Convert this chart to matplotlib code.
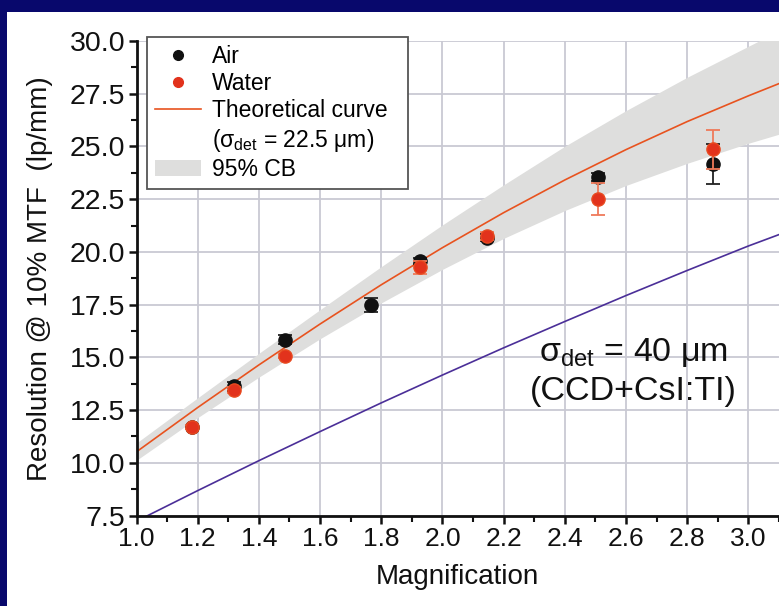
import matplotlib
matplotlib.use("Agg")
import matplotlib.pyplot as plt
from matplotlib.lines import Line2D
from matplotlib.patches import Patch, Rectangle
from matplotlib.ticker import MultipleLocator, FormatStrFormatter

plt.rcParams['font.family'] = ['Liberation Sans', 'DejaVu Sans']
plt.rcParams['mathtext.fontset'] = 'custom'
plt.rcParams['mathtext.rm'] = 'Liberation Sans'
plt.rcParams['mathtext.it'] = 'Liberation Sans'

# ---- data ----
air_x = [1.18, 1.32, 1.485, 1.765, 1.925, 2.145, 2.51, 2.885]
air_y = [11.70, 13.62, 15.84, 17.48, 19.58, 20.68, 23.55, 24.17]
air_err = [0.10, 0.20, 0.20, 0.33, 0.15, 0.15, 0.20, 0.95]

water_x = [1.18, 1.32, 1.485, 1.925, 2.145, 2.51, 2.885]
water_y = [11.70, 13.46, 15.08, 19.26, 20.76, 22.50, 24.86]
water_err = [0.10, 0.15, 0.10, 0.33, 0.20, 0.75, 0.93]

curve_x = [1.0, 1.2, 1.4, 1.6, 1.8, 2.0, 2.2, 2.4, 2.6, 2.8, 3.0, 3.1]
theory_225 = [10.52, 12.62, 14.64, 16.58, 18.44, 20.20, 21.86, 23.41, 24.85, 26.18, 27.40, 27.98]
band_upper = [10.94, 13.08, 15.19, 17.26, 19.30, 21.28, 23.18, 25.01, 26.70, 28.28, 29.75, 30.48]
band_lower = [10.12, 12.14, 14.06, 15.88, 17.58, 19.17, 20.64, 21.96, 23.15, 24.20, 25.15, 25.58]
theory_40 = [7.23, 8.68, 10.10, 11.48, 12.84, 14.16, 15.45, 16.70, 17.93, 19.12, 20.28, 20.82]

xticks = [1.0, 1.2, 1.4, 1.6, 1.8, 2.0, 2.2, 2.4, 2.6, 2.8, 3.0]
yticks = [7.5, 10.0, 12.5, 15.0, 17.5, 20.0, 22.5, 25.0, 27.5, 30.0]

navy = '#08086c'
orange = '#e8531f'
red = '#e2321c'
red_err = '#ef7a5a'
purple = '#4b2f98'
band_col = '#dededd'
grid_col = '#c9c9d3'

fig = plt.figure(figsize=(7.79, 6.06), dpi=100)
fig.patch.set_facecolor(navy)
fig.add_artist(Rectangle((6.5 / 779, 0), 1, 1 - 12 / 606, transform=fig.transFigure,
                         facecolor='white', edgecolor='none', zorder=-10))

ax = fig.add_axes([136.5 / 779, 1 - 515.5 / 606, 1 - 136.5 / 779, (515.5 - 41) / 606])
ax.set_facecolor('white')

ax.fill_between(curve_x, band_lower, band_upper, color=band_col, lw=0, zorder=1)
ax.plot(curve_x, theory_225, color=orange, lw=1.2, zorder=2)
ax.plot(curve_x, theory_40, color=purple, lw=1.2, zorder=2)

ax.errorbar(air_x, air_y, yerr=air_err, fmt='o', color='#111111', ecolor='#222222',
            elinewidth=1.3, capsize=5, capthick=1.3, markersize=9.5, zorder=4)
ax.errorbar(water_x, water_y, yerr=water_err, fmt='o', color=red, ecolor=red_err,
            markeredgecolor='#e84a20', elinewidth=1.3, capsize=5, capthick=1.3,
            markersize=9.5, zorder=5)

ax.set_xlim(1.0, 3.1)
ax.set_ylim(7.5, 30.0)
ax.set_xticks(xticks)
ax.set_yticks(yticks)
ax.xaxis.set_minor_locator(MultipleLocator(0.1))
ax.yaxis.set_minor_locator(MultipleLocator(1.25))
ax.xaxis.set_major_formatter(FormatStrFormatter('%.1f'))
ax.yaxis.set_major_formatter(FormatStrFormatter('%.1f'))
ax.grid(True, which='major', color=grid_col, lw=1.3, zorder=0)
ax.set_axisbelow(True)

for s in ['top', 'right']:
    ax.spines[s].set_visible(False)
for s in ['left', 'bottom']:
    ax.spines[s].set_linewidth(2.0)
    ax.spines[s].set_color('#111111')

ax.tick_params(axis='both', which='major', direction='out', length=6, width=1.8,
               colors='#111111', labelsize=19, pad=2)
ax.tick_params(axis='both', which='minor', direction='out', length=4, width=1.5,
               colors='#111111')
ax.tick_params(axis='y', labelsize=20.5)

ax.set_xlabel('Magnification', fontsize=20, color='#111111', labelpad=10)
ax.set_ylabel('Resolution @ 10% MTF  (lp/mm)', fontsize=20, color='#111111', labelpad=12)

ax.text(2.625, 15.25, r'σ$_{\mathrm{det}}$ = 40 μm', fontsize=24.5, ha='center',
        va='center', color='#111111')
ax.text(2.625, 13.4, '(CCD+CsI:TI)', fontsize=24.5, ha='center', va='center',
        color='#111111')

handles = [
    Line2D([], [], marker='o', ls='none', color='#111111', markersize=7),
    Line2D([], [], marker='o', ls='none', color=red, markersize=7),
    Line2D([], [], color=orange, lw=1.2),
    Line2D([], [], color='none'),
    Patch(facecolor=band_col, edgecolor='none'),
]
labels = ['Air', 'Water', 'Theoretical curve  ', r'(σ$_{\mathrm{det}}$ = 22.5 μm)', '95% CB']
leg = ax.legend(handles, labels, loc='upper left', bbox_to_anchor=(0.016, 1.008),
                fontsize=16.5, frameon=True, fancybox=False, framealpha=1,
                edgecolor='#555555', handlelength=2.0, handletextpad=0.5,
                labelspacing=0.18, borderpad=0.35, borderaxespad=0)
leg.get_frame().set_linewidth(1.3)
leg.set_zorder(10)

fig.savefig('out.png', dpi=100, facecolor=fig.get_facecolor())
